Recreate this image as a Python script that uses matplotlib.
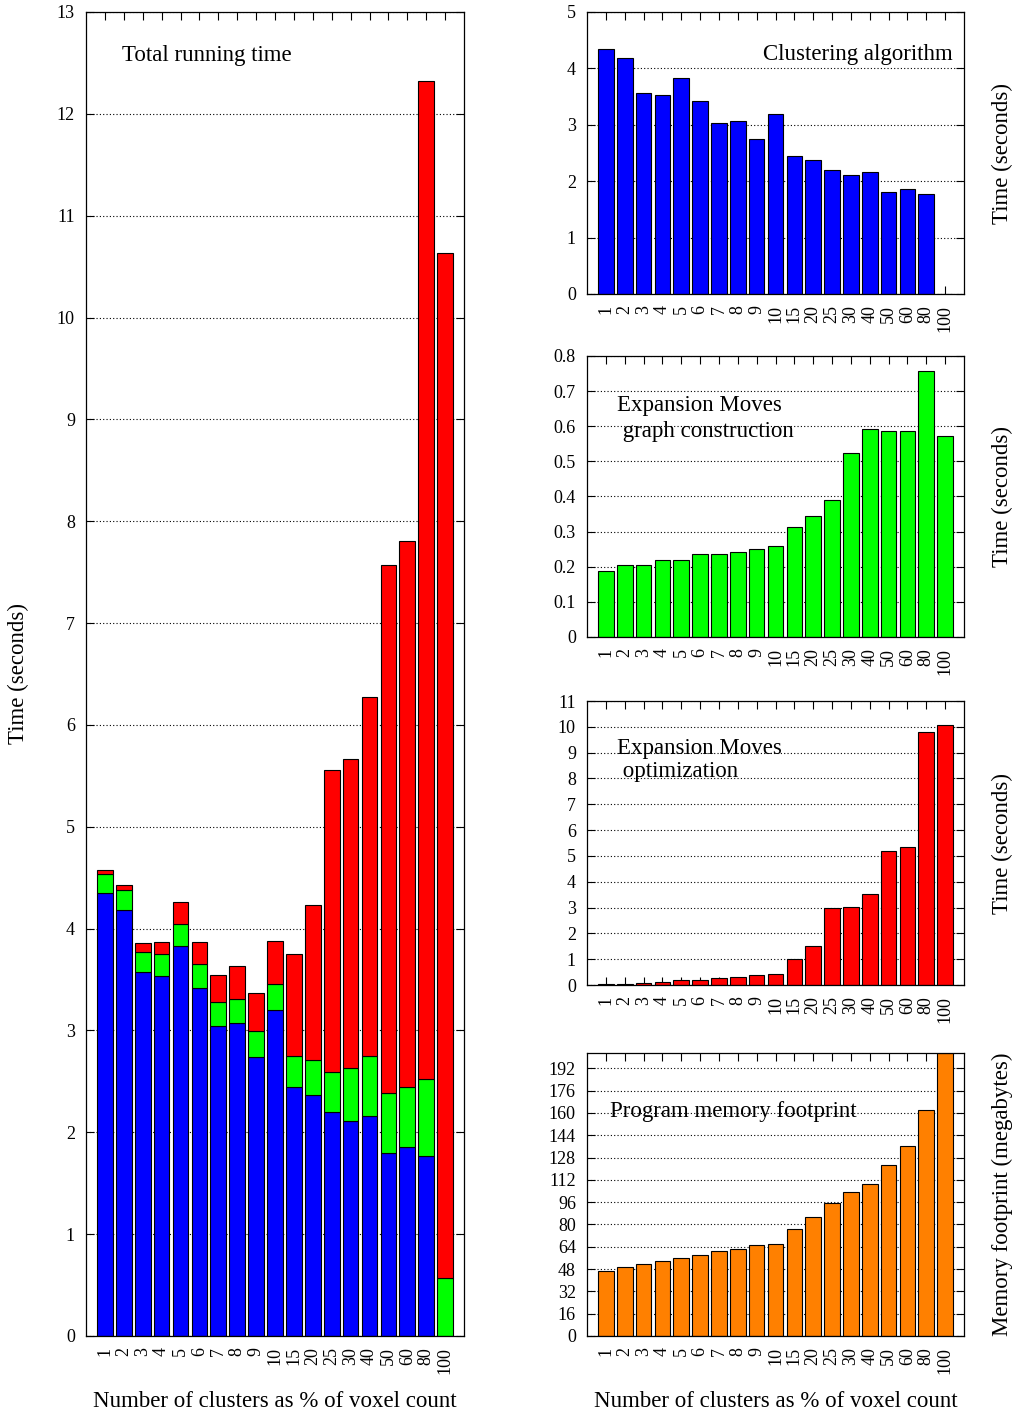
import matplotlib
matplotlib.use("Agg")
import matplotlib.pyplot as plt
import numpy as np

plt.rcParams['font.family'] = ['Liberation Serif', 'DejaVu Serif']

categories = ["1", "2", "3", "4", "5", "6", "7", "8", "9", "10",
              "15", "20", "25", "30", "40", "50", "60", "80", "100"]
clustering = [4.35, 4.18, 3.57, 3.53, 3.83, 3.42, 3.04, 3.07, 2.74, 3.20,
              2.44, 2.37, 2.20, 2.11, 2.16, 1.80, 1.86, 1.77, 0.0]
graph_construction = [0.188, 0.204, 0.204, 0.219, 0.219, 0.235, 0.235, 0.242, 0.251, 0.258,
                      0.313, 0.344, 0.391, 0.524, 0.593, 0.586, 0.586, 0.758, 0.571]
optimization = [0.04, 0.04, 0.08, 0.12, 0.21, 0.21, 0.27, 0.32, 0.38, 0.42,
                1.00, 1.52, 2.97, 3.03, 3.52, 5.18, 5.36, 9.79, 10.06]
memory = [46.8, 49.4, 51.3, 53.5, 55.9, 58.3, 60.7, 62.4, 65.2, 65.7,
          76.8, 85.4, 95.5, 103.2, 109.1, 122.6, 136.0, 162.4, 203.0]

BLUE = "#0000ff"
GREEN = "#00ff00"
RED = "#ff0000"
ORANGE = "#ff8000"

W, H = 1016, 1414
fig = plt.figure(figsize=(W / 100, H / 100), dpi=100)

def px_axes(x0, y0, x1, y1):
    return fig.add_axes([x0 / W, 1 - y1 / H, (x1 - x0) / W, (y1 - y0) / H])

TICK_FS = 13
LABEL_FS = 16.5
x = np.arange(1, len(categories) + 1)
bw = 0.83

def style(ax, yticks, yticklabels, ylim):
    ax.set_xlim(0, len(categories) + 1)
    ax.set_ylim(*ylim)
    ax.set_xticks(x)
    ax.set_xticklabels(categories, rotation=90, fontsize=TICK_FS)
    ax.set_yticks(yticks)
    ax.set_yticklabels(yticklabels, fontsize=TICK_FS)
    ax.tick_params(axis='both', direction='in', length=6, width=0.8,
                   top=True, right=True, pad=8)
    ax.yaxis.grid(True, linestyle=(0, (1, 2)), color='black', linewidth=0.8)
    ax.set_axisbelow(True)
    for s in ax.spines.values():
        s.set_linewidth(0.9)

# ---- Left: total running time (stacked) ----
ax0 = px_axes(86, 12, 464, 1336)
b = np.array(clustering)
g = np.array(graph_construction)
r = np.array(optimization)
ax0.bar(x, b, bw, color=BLUE, edgecolor='black', linewidth=0.8)
ax0.bar(x, g, bw, bottom=b, color=GREEN, edgecolor='black', linewidth=0.8)
ax0.bar(x, r, bw, bottom=b + g, color=RED, edgecolor='black', linewidth=0.8)
yt = list(range(0, 14))
style(ax0, yt, [str(v) for v in yt], (0, 13))
ax0.set_ylabel("Time (seconds)", fontsize=LABEL_FS, labelpad=20)
ax0.set_xlabel("Number of clusters as % of voxel count", fontsize=LABEL_FS, labelpad=12)
ax0.text(0.095, 0.975, "Total running time", transform=ax0.transAxes,
         fontsize=LABEL_FS, ha='left', va='top')

# ---- Right 1: clustering ----
ax1 = px_axes(587, 12, 964, 294)
ax1.bar(x, clustering, bw, color=BLUE, edgecolor='black', linewidth=0.8)
yt = list(range(0, 6))
style(ax1, yt, [str(v) for v in yt], (0, 5))
ax1.yaxis.set_label_position('right')
ax1.set_ylabel("Time (seconds)", fontsize=LABEL_FS, labelpad=20)
ax1.text(0.97, 0.885, "Clustering algorithm", transform=ax1.transAxes,
         fontsize=LABEL_FS, ha='right', va='top')

# ---- Right 2: graph construction ----
ax2 = px_axes(587, 356, 964, 637)
ax2.bar(x, graph_construction, bw, color=GREEN, edgecolor='black', linewidth=0.8)
yt = [0, 0.1, 0.2, 0.3, 0.4, 0.5, 0.6, 0.7, 0.8]
style(ax2, yt, ["0"] + ["%.1f" % v for v in yt[1:]], (0, 0.8))
ax2.yaxis.set_label_position('right')
ax2.set_ylabel("Time (seconds)", fontsize=LABEL_FS, labelpad=20)
ax2.text(0.08, 0.86, "Expansion Moves\n graph construction", transform=ax2.transAxes,
         fontsize=LABEL_FS, ha='left', va='top', linespacing=1.3)

# ---- Right 3: optimization ----
ax3 = px_axes(587, 701, 964, 985)
ax3.bar(x, optimization, bw, color=RED, edgecolor='black', linewidth=0.8)
yt = list(range(0, 12))
style(ax3, yt, [str(v) for v in yt], (0, 11))
ax3.yaxis.set_label_position('right')
ax3.set_ylabel("Time (seconds)", fontsize=LABEL_FS, labelpad=20)
ax3.text(0.08, 0.87, "Expansion Moves\n optimization", transform=ax3.transAxes,
         fontsize=LABEL_FS, ha='left', va='top', linespacing=1.1)

# ---- Right 4: memory ----
ax4 = px_axes(587, 1053, 964, 1336)
ax4.bar(x, memory, bw, color=ORANGE, edgecolor='black', linewidth=0.8)
yt = list(range(0, 193, 16))
style(ax4, yt, [str(v) for v in yt], (0, 203))
ax4.yaxis.set_label_position('right')
ax4.set_ylabel("Memory footprint (megabytes)", fontsize=LABEL_FS, labelpad=20)
ax4.set_xlabel("Number of clusters as % of voxel count", fontsize=LABEL_FS, labelpad=12)
ax4.text(0.06, 0.83, "Program memory footprint", transform=ax4.transAxes,
         fontsize=LABEL_FS, ha='left', va='top')

fig.savefig("out.png", dpi=100)
